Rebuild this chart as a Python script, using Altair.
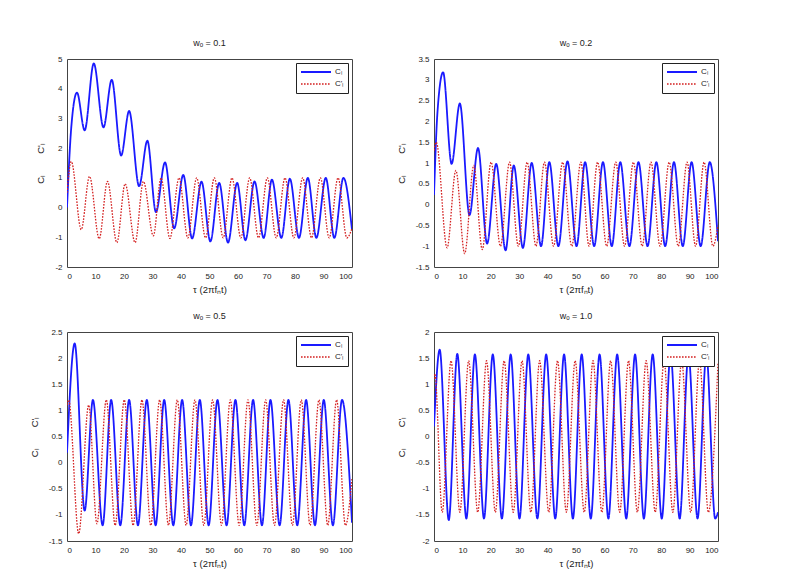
import altair as alt
import pandas as pd

SERIES = ["Cₗ", "C'ₗ"]
COLORS = ["#1a1aff", "#d42020"]
TAU_TICKS = [0, 10, 20, 30, 40, 50, 60, 70, 80, 90, 100]

# ---- panel 1: w0 = 0.1 ----
p1_cl_t = [0, 1.5, 3.5, 6.2, 9.4, 12.8, 15.7, 19.0, 21.8, 25.3, 28.2, 31.2, 34.4, 37.6, 40.8, 43.9, 47.2,
           50.3, 53.4, 56.5, 59.7, 62.6, 65.8, 69.0, 71.9, 75.2, 78.2, 81.4, 84.5, 87.5, 90.8, 93.8, 97.0, 100]
p1_cl_v = [0.0, 2.7, 3.87, 2.6, 4.85, 2.7, 4.3, 1.75, 3.25, 0.72, 2.25, -0.15, 1.52, -0.7, 1.1, -1.04, 0.87,
           -1.14, 0.83, -1.18, 0.83, -1.1, 0.88, -1.02, 0.94, -1.02, 0.97, -1.02, 1.0, -1.02, 1.0, -1.02, 1.0, -0.75]
p1_cp_t = [0, 1.5, 5.0, 7.9, 11.3, 14.2, 17.5, 20.4, 23.9, 26.8, 30.3, 33.0, 36.1, 39.3, 42.4, 45.5, 48.6,
           51.7, 54.8, 57.9, 61.0, 64.1, 67.2, 70.3, 73.4, 76.5, 79.6, 82.7, 85.8, 88.9, 92.0, 95.1, 98.2, 100]
p1_cp_v = [0.5, 1.55, -0.74, 1.05, -1.05, 0.88, -1.18, 0.8, -1.18, 0.88, -0.95, 1.0, -1.04, 1.0, -1.02, 1.0, -1.02,
           1.0, -1.02, 1.0, -1.02, 1.0, -1.02, 1.0, -1.02, 1.0, -1.02, 1.0, -1.02, 1.0, -1.02, 1.0, -1.02, -0.7]
p1_yticks = [-2, -1, 0, 1, 2, 3, 4, 5]

# ---- panel 2: w0 = 0.2 ----
p2_cl_t = [0, 1.2, 3.2, 6.2, 9.1, 12.5, 15.5, 18.7, 21.9, 25.2, 28.1, 31.3, 34.4, 37.7, 40.6, 43.8, 47.0,
           50.2, 53.2, 56.4, 59.5, 62.6, 65.6, 68.8, 72.0, 75.2, 78.3, 81.4, 84.5, 87.6, 90.7, 93.9, 97.1, 100]
p2_cl_v = [0.23, 2.2, 3.18, 0.98, 2.43, -0.25, 1.36, -0.94, 0.98, -1.1, 0.94, -1.04, 1.0, -1.0, 1.02, -1.0, 1.04,
           -1.0, 1.02, -1.0, 1.02, -1.0, 1.02, -1.0, 1.02, -1.0, 1.02, -1.0, 1.02, -1.0, 1.02, -1.0, 1.02, -0.88]
p2_cp_t = [0, 0.8, 4.6, 7.7, 10.8, 14.0, 17.0, 20.1, 23.4, 26.6, 29.7, 32.8, 35.9, 38.9, 42.1, 45.3, 48.5,
           51.7, 54.6, 57.6, 60.8, 64.0, 67.1, 70.2, 73.3, 76.4, 79.6, 82.8, 86.0, 89.1, 92.1, 95.1, 98.2, 100]
p2_cp_v = [1.3, 1.5, -1.04, 0.82, -1.18, 0.94, -1.08, 1.02, -1.0, 1.02, -1.0, 1.02, -1.0, 1.02, -1.0, 1.02, -1.0,
           1.02, -1.0, 1.02, -1.0, 1.02, -1.0, 1.02, -1.0, 1.02, -1.0, 1.02, -1.0, 1.02, -1.0, 1.02, -1.0, -0.5]
p2_yticks = [-1.5, -1, -0.5, 0, 0.5, 1, 1.5, 2, 2.5, 3, 3.5]

# ---- panel 3: w0 = 0.5 ----
p3_cl_t = [0, 2.7, 6.2, 9.1, 12.5, 15.5, 18.7, 21.8, 24.9, 28.0, 31.1, 34.1, 37.3, 40.4, 43.5, 46.6, 49.7,
           52.8, 56.0, 59.1, 62.2, 65.3, 68.4, 71.4, 74.6, 77.7, 80.8, 83.9, 87.0, 90.1, 93.3, 96.5, 100]
p3_cl_v = [0.19, 2.28, -0.92, 1.2, -1.2, 1.2, -1.2, 1.2, -1.2, 1.2, -1.2, 1.2, -1.2, 1.2, -1.2, 1.2, -1.2,
           1.2, -1.2, 1.2, -1.2, 1.2, -1.2, 1.2, -1.2, 1.2, -1.2, 1.2, -1.2, 1.2, -1.2, 1.2, -1.15]
p3_cp_t = [0, 0.6, 4.1, 7.6, 10.5, 13.8, 16.9, 20.1, 23.2, 26.3, 29.4, 32.5, 35.6, 38.7, 41.8, 44.9, 48.0,
           51.1, 54.2, 57.3, 60.4, 63.5, 66.6, 69.7, 72.8, 76.0, 79.1, 82.2, 85.3, 88.4, 91.5, 94.6, 97.7, 100]
p3_cp_v = [1.1, 1.2, -1.36, 1.1, -1.17, 1.2, -1.2, 1.2, -1.2, 1.2, -1.2, 1.2, -1.2, 1.2, -1.2, 1.2, -1.2,
           1.2, -1.2, 1.2, -1.2, 1.2, -1.2, 1.2, -1.2, 1.2, -1.2, 1.2, -1.2, 1.2, -1.2, 1.2, -1.2, -0.3]
p3_yticks = [-1.5, -1, -0.5, 0, 0.5, 1, 1.5, 2, 2.5]

# ---- panel 4: w0 = 1.0 ----
p4_cl_t = [0, 2.0, 5.2, 8.2, 11.4, 14.4, 17.6, 20.7, 23.9, 27.0, 30.1, 33.2, 36.4, 39.5, 42.7, 45.8, 48.9,
           52.0, 55.2, 58.3, 61.4, 64.5, 67.7, 70.8, 73.9, 77.0, 80.2, 83.3, 86.5, 89.6, 92.8, 95.9, 99.0, 100]
p4_cl_v = [0.19, 1.66, -1.6, 1.58, -1.57, 1.57, -1.57, 1.57, -1.57, 1.57, -1.57, 1.57, -1.57, 1.57, -1.57, 1.57, -1.57,
           1.57, -1.57, 1.57, -1.57, 1.57, -1.57, 1.57, -1.57, 1.57, -1.57, 1.57, -1.57, 1.57, -1.57, 1.57, -1.57, -1.45]
p4_cp_t = [0, 0.3, 2.9, 6.0, 9.1, 12.2, 15.4, 18.5, 21.6, 24.7, 27.9, 31.0, 34.1, 37.2, 40.4, 43.5, 46.6,
           49.7, 52.9, 56.0, 59.1, 62.2, 65.4, 68.5, 71.6, 74.7, 77.9, 81.0, 84.1, 87.2, 90.4, 93.5, 96.6, 100]
p4_cp_v = [1.1, 1.2, -1.45, 1.45, -1.45, 1.45, -1.45, 1.45, -1.45, 1.45, -1.45, 1.45, -1.45, 1.45, -1.45, 1.45, -1.45,
           1.45, -1.45, 1.45, -1.45, 1.45, -1.45, 1.45, -1.45, 1.45, -1.45, 1.45, -1.45, 1.45, -1.45, 1.45, -1.45, 1.42]
p4_yticks = [-2, -1.5, -1, -0.5, 0, 0.5, 1, 1.5, 2]

TITLES = ["wₒ = 0.1", "wₒ = 0.2", "wₒ = 0.5", "wₒ = 1.0"]
Y_TITLE = "Cₗ" + "\u00a0" * 8 + "C'ₗ"
X_TITLE = "τ (2πfₙt)"


def panel(title, cl_t, cl_v, cp_t, cp_v, yticks, w, h):
    df = pd.DataFrame({
        "tau": cl_t + cp_t,
        "val": cl_v + cp_v,
        "series": [SERIES[0]] * len(cl_t) + [SERIES[1]] * len(cp_t),
    })
    return alt.Chart(df).mark_line(interpolate="monotone", clip=True).encode(
        x=alt.X("tau:Q", scale=alt.Scale(domain=[0, 100], nice=False),
                axis=alt.Axis(values=TAU_TICKS, title=X_TITLE, labelExpr="'' + datum.value")),
        y=alt.Y("val:Q", scale=alt.Scale(domain=[yticks[0], yticks[-1]], nice=False, zero=False),
                axis=alt.Axis(values=yticks, title=Y_TITLE, labelExpr="'' + datum.value")),
        color=alt.Color("series:N", scale=alt.Scale(domain=SERIES, range=COLORS),
                        legend=alt.Legend(title=None)),
        strokeDash=alt.StrokeDash("series:N", scale=alt.Scale(domain=SERIES, range=[[1, 0], [1.6, 1.4]]),
                                  legend=alt.Legend(title=None)),
        strokeWidth=alt.StrokeWidth("series:N", scale=alt.Scale(domain=SERIES, range=[1.8, 1.3]), legend=None),
    ).properties(width=w, height=h, title=title)


RES = dict(color="independent", strokeDash="independent", strokeWidth="independent")

p1 = panel(TITLES[0], p1_cl_t, p1_cl_v, p1_cp_t, p1_cp_v, p1_yticks, 285, 208)
p2 = panel(TITLES[1], p2_cl_t, p2_cl_v, p2_cp_t, p2_cp_v, p2_yticks, 284, 208)
p3 = panel(TITLES[2], p3_cl_t, p3_cl_v, p3_cp_t, p3_cp_v, p3_yticks, 285, 209)
p4 = panel(TITLES[3], p4_cl_t, p4_cl_v, p4_cp_t, p4_cp_v, p4_yticks, 284, 209)

row1 = alt.hconcat(p1, p2, spacing=82, bounds="flush").resolve_scale(**RES)
row2 = alt.hconcat(p3, p4, spacing=82, bounds="flush").resolve_scale(**RES)

chart = alt.vconcat(row1, row2, spacing=17).resolve_scale(**RES).properties(
    padding={"left": 20, "top": 30, "right": 5, "bottom": 5},
    background="white",
).configure(
    font="Liberation Sans",
).configure_view(
    stroke="#444", strokeWidth=1,
).configure_axis(
    domain=False, grid=False, ticks=False,
    labelFontSize=8, labelColor="#222", labelPadding=5,
    titleFontSize=9.5, titleFontWeight="normal", titleColor="#222",
).configure_axisY(
    titlePadding=9,
).configure_axisX(
    titlePadding=4,
).configure_title(
    fontSize=9, fontWeight="normal", color="#222", offset=7,
).configure_legend(
    orient="top-right", offset=4, padding=4,
    strokeColor="#222", fillColor="white", cornerRadius=0,
    symbolType="stroke", symbolSize=900, symbolStrokeWidth=1.5,
    labelFontSize=8, labelColor="#222", labelOffset=3,
    rowPadding=2, clipHeight=10,
)

chart.save("out.html", embed_options={"renderer": "svg", "actions": False})
